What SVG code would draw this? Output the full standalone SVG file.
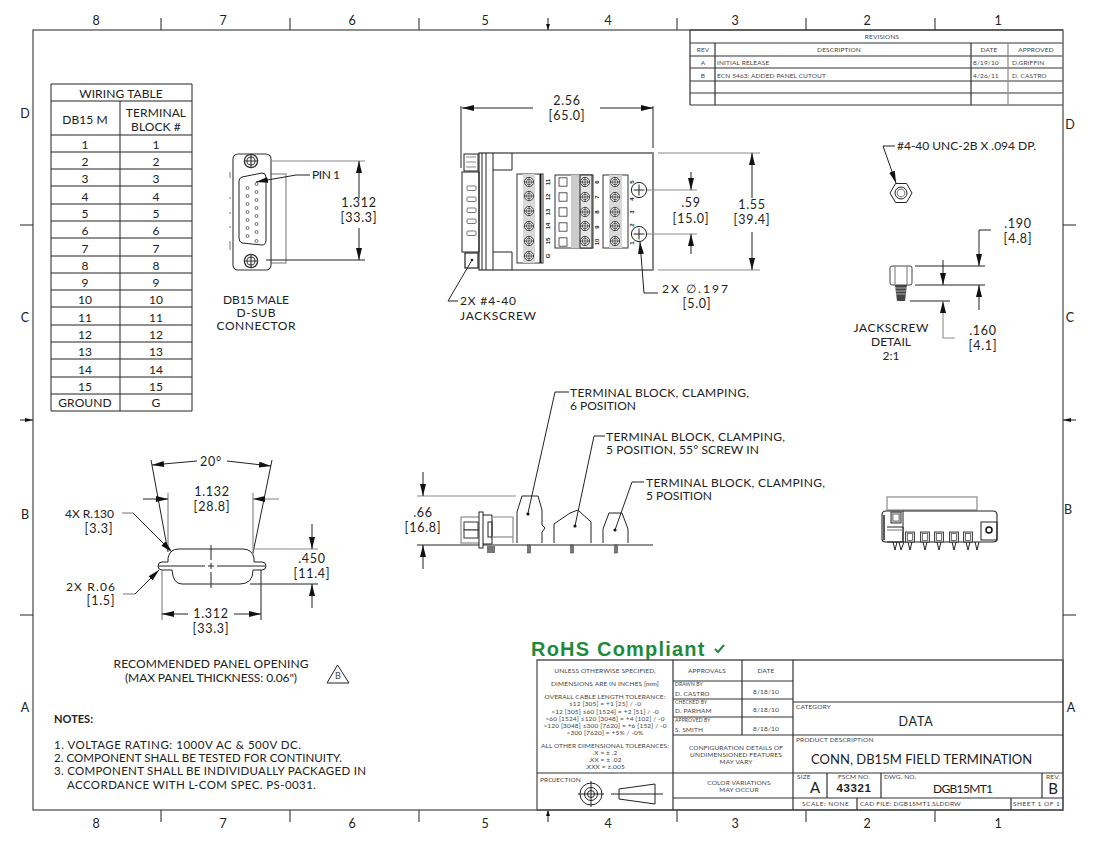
<svg xmlns="http://www.w3.org/2000/svg" width="1099" height="849" viewBox="0 0 1099 849">
<style>
text{font-family:"Lato","Liberation Sans",sans-serif;fill:#222;letter-spacing:.75px}
.z{font-size:12.5px;text-anchor:middle;letter-spacing:0}
.d{font-size:12.5px;text-anchor:middle}
.d2{font-size:12px;text-anchor:middle;letter-spacing:0}
.l{font-size:12px;letter-spacing:0}
.w{font-size:12px;text-anchor:middle;letter-spacing:.1px}
.s{font-size:6.5px;fill:#444;letter-spacing:.15px}
.sm{font-size:6.5px;fill:#444;text-anchor:middle;letter-spacing:.15px}
.n{font-size:11.5px;letter-spacing:0}
.pn{font-size:6px;font-weight:bold;text-anchor:middle;letter-spacing:0;font-family:"Liberation Sans",sans-serif}
.k{fill:none;stroke:#222;stroke-width:1}
.g{fill:none;stroke:#8a8a8a;stroke-width:1.2}
.b{fill:none;stroke:#333;stroke-width:1.2}
.h{fill:none;stroke:#555;stroke-width:1.3}
.ar{fill:none;stroke:#222;stroke-width:1;marker-end:url(#a)}
.ga{fill:none;stroke:#8a8a8a;stroke-width:1.1;marker-end:url(#a)}
</style>
<defs>
<marker id="a" markerUnits="userSpaceOnUse" markerWidth="13" markerHeight="7" refX="12" refY="3" orient="auto"><path d="M0,0L12,3L0,6Z" fill="#111"/></marker>
<g id="sc"><circle r="4.6" fill="#fff" stroke="#333" stroke-width=".9"/><circle r="2.8" fill="none" stroke="#333" stroke-width=".7"/><path d="M-4.6,0H4.6M0,-4.6V4.6" stroke="#333" stroke-width=".8"/></g>
<g id="sq"><rect x="-4" y="-4.2" width="8" height="8.4" fill="#fff" stroke="#333" stroke-width=".8"/></g>
<g id="hl"><circle r="7.6" fill="#fff" stroke="#222" stroke-width="1"/><path d="M-5.5,0H5.5M0,-5.5V5.5" stroke="#222" stroke-width="1"/></g>
<g id="ps"><rect x="-1.5" y="-2" width="3" height="8" fill="#777" stroke="#333" stroke-width=".5"/></g>
<g id="lw"><rect x="-4.5" y="-5" width="9" height="10" fill="#ddd" stroke="#333" stroke-width=".9"/><rect x="-2.5" y="-3.5" width="5" height="7" fill="#fff" stroke="#444" stroke-width=".7"/></g>
</defs>
<rect width="1099" height="849" fill="#fff"/>

<g id="frame">
<rect class="h" x="33" y="30" width="1030" height="780"/>
<path class="k" d="M161,18V30M290,18V30M419,18V30M677,18V30M806,18V30M935,18V30M161,810V822M290,810V822M419,810V822M677,810V822M806,810V822M935,810V822M20,225H33M20,615H33M1063,225H1076M1063,615H1076M548,18V30M548,810V822M20,420H33M1063,420H1076"/>
<path d="M548,30l-2,-6h4ZM548,810l-2,6h4ZM33,420l-8,-2v4ZM1063,420l8,-2v4Z" fill="#111"/>
<text class="z" x="96" y="25">8</text><text class="z" x="223" y="25">7</text><text class="z" x="352" y="25">6</text><text class="z" x="485" y="25">5</text><text class="z" x="608" y="25">4</text><text class="z" x="735" y="25">3</text><text class="z" x="867" y="25">2</text><text class="z" x="998" y="25">1</text>
<text class="z" x="96" y="828">8</text><text class="z" x="223" y="828">7</text><text class="z" x="352" y="828">6</text><text class="z" x="485" y="828">5</text><text class="z" x="608" y="828">4</text><text class="z" x="735" y="828">3</text><text class="z" x="867" y="828">2</text><text class="z" x="998" y="828">1</text>
<text class="z" x="25" y="118">D</text><text class="z" x="25" y="322">C</text><text class="z" x="25" y="519">B</text><text class="z" x="25" y="712">A</text>
<text class="z" x="1070" y="129">D</text><text class="z" x="1070" y="322">C</text><text class="z" x="1068" y="514">B</text><text class="z" x="1071" y="712">A</text>
</g>

<g id="revisions">
<path class="b" d="M690,30H1063M690,43H1063M690,56H1063M690,68H1063M690,81H1063M690,93H1063M690,105H1063M690,30V105M715,43V105M971,43V105"/>
<path class="g" d="M1008,43V105M1063,30V105" stroke-width="1.5"/>
<text class="sm" x="882" y="39">REVISIONS</text><text class="sm" x="703" y="52">REV</text><text class="sm" x="839" y="52">DESCRIPTION</text><text class="sm" x="989" y="52">DATE</text><text class="sm" x="1036" y="52">APPROVED</text>
<text class="sm" x="703" y="65">A</text><text class="s" x="717" y="65">INITIAL RELEASE</text><text class="s" x="973" y="65">8/19/10</text><text class="s" x="1012" y="65">D.GRIFFIN</text>
<text class="sm" x="703" y="78">B</text><text class="s" x="717" y="78" textLength="109">ECN 5463: ADDED PANEL CUTOUT</text><text class="s" x="973" y="78">4/26/11</text><text class="s" x="1012" y="78">D. CASTRO</text>
</g>

<g id="wiring-table">
<path class="k" d="M51,84H192V411H51ZM51,101H192M51,135H192M51,152H192M51,169H192M51,186H192M51,204H192M51,221H192M51,238H192M51,256H192M51,273H192M51,290H192M51,307H192M51,325H192M51,342H192M51,359H192M51,377H192M51,394H192M120,101V411"/>
<g transform="translate(0,1)">
<text class="w" x="121" y="97">WIRING TABLE</text><text class="w" x="85" y="123">DB15 M</text><text class="w" x="156" y="116">TERMINAL</text><text class="w" x="156" y="130">BLOCK #</text>
<text class="w" x="85" y="148">1</text><text class="w" x="156" y="148">1</text><text class="w" x="85" y="165">2</text><text class="w" x="156" y="165">2</text><text class="w" x="85" y="182">3</text><text class="w" x="156" y="182">3</text><text class="w" x="85" y="200">4</text><text class="w" x="156" y="200">4</text><text class="w" x="85" y="217">5</text><text class="w" x="156" y="217">5</text><text class="w" x="85" y="234">6</text><text class="w" x="156" y="234">6</text><text class="w" x="85" y="252">7</text><text class="w" x="156" y="252">7</text><text class="w" x="85" y="269">8</text><text class="w" x="156" y="269">8</text><text class="w" x="85" y="286">9</text><text class="w" x="156" y="286">9</text><text class="w" x="85" y="303">10</text><text class="w" x="156" y="303">10</text><text class="w" x="85" y="321">11</text><text class="w" x="156" y="321">11</text><text class="w" x="85" y="338">12</text><text class="w" x="156" y="338">12</text><text class="w" x="85" y="355">13</text><text class="w" x="156" y="355">13</text><text class="w" x="85" y="373">14</text><text class="w" x="156" y="373">14</text><text class="w" x="85" y="390">15</text><text class="w" x="156" y="390">15</text><text class="w" x="85" y="406">GROUND</text><text class="w" x="156" y="406">G</text>
</g>
</g>

<g id="db15-connector">
<rect class="g" x="266" y="174" width="20" height="89"/>
<rect x="233" y="154" width="38" height="116" rx="5" fill="#fff" stroke="#333" stroke-width="1.1"/>
<path class="k" d="M242,177L262,173Q266,173 266,177L266,240Q266,245 262,245L242,243Q239,242 239,238V181Q239,178 242,177Z"/>
<path class="g" d="M230,172V178M230,197V199M230,212V214M230,226V228M230,241V250" stroke-width="2"/>
<g transform="translate(251,161) scale(1.45)"><use href="#sc"/></g>
<g transform="translate(251,261) scale(1.45)"><use href="#sc"/></g>
<g fill="#fff" stroke="#333" stroke-width=".7">
<circle cx="256.500" cy="184" r="1.500"/><circle cx="256.500" cy="192" r="1.500"/><circle cx="256.500" cy="200" r="1.500"/><circle cx="256.500" cy="208" r="1.500"/><circle cx="256.500" cy="216" r="1.500"/><circle cx="256.500" cy="224" r="1.500"/><circle cx="256.500" cy="232" r="1.500"/><circle cx="256.500" cy="241" r="1.500"/>
<circle cx="247.500" cy="188" r="1.500"/><circle cx="247.500" cy="196" r="1.500"/><circle cx="247.500" cy="204" r="1.500"/><circle cx="247.500" cy="212" r="1.500"/><circle cx="247.500" cy="220" r="1.500"/><circle cx="247.500" cy="228" r="1.500"/><circle cx="247.500" cy="236" r="1.500"/>
</g>
<path class="ar" d="M310,175H296L256,182"/>
<path class="g" d="M271,161H365"/><path class="k" d="M266,260H365"/>
<path class="ar" d="M359,198V161"/><path class="ar" d="M359,228V260"/>
<text class="l" x="312" y="179" textLength="28">PIN 1</text><text class="d" x="359" y="207">1.312</text><text class="d" x="359" y="222">[33.3]</text>
<text class="d2" x="256" y="304" textLength="66">DB15 MALE</text><text class="d2" x="256" y="317" textLength="39">D-SUB</text><text class="d2" x="256" y="330" textLength="79">CONNECTOR</text>
</g>

<g id="terminal-top-view">
<rect class="b" x="479" y="153" width="174" height="117" stroke="#888"/>
<path class="g" d="M512,153H653V270H512"/>
<rect class="k" x="462" y="172" width="17" height="80" stroke="#777"/>
<rect class="k" x="464" y="154" width="14" height="17" stroke="#666"/>
<path class="g" d="M466,157H476M466,162H476M466,167H476"/>
<rect x="465" y="253" width="13" height="15" fill="#fff" stroke="#222" stroke-width="1.2"/>
<circle cx="472" cy="260" r="1.3" fill="#222"/>
<path class="k" d="M482,153V270M486,153V270M493,153V270M493,170H512V153M493,252H512V270"/>
<g fill="#fff" stroke="#555" stroke-width=".8"><rect x="467" y="186" width="9" height="4.500" rx="1"/><rect x="467" y="197" width="9" height="4.500" rx="1"/><rect x="467" y="208" width="9" height="4.500" rx="1"/><rect x="467" y="219" width="9" height="4.500" rx="1"/><rect x="467" y="231" width="9" height="4.500" rx="1"/></g>
<rect x="517" y="174" width="26" height="89" fill="#fff" stroke="#333" stroke-width="1"/>
<rect x="523" y="174" width="12" height="89" fill="#d8d8d8" stroke="none"/>
<path d="M540.500,174V263" stroke="#111" stroke-width="2"/>
<rect x="555" y="175" width="38" height="73" fill="#fff" stroke="#333" stroke-width="1"/>
<rect x="571" y="175" width="9" height="73" fill="#ccc"/>
<rect x="580" y="175" width="12" height="73" fill="#e4e4e4" stroke="#222"/>
<rect x="603" y="175" width="25" height="73" fill="#fff" stroke="#333" stroke-width="1"/>
<rect x="609" y="175" width="13" height="73" fill="#d8d8d8"/>
<use href="#sc" x="529" y="182"/><use href="#sc" x="529" y="196"/><use href="#sc" x="529" y="211"/><use href="#sc" x="529" y="226"/><use href="#sc" x="529" y="241"/><use href="#sc" x="529" y="256"/>
<use href="#sq" x="563" y="182"/><use href="#sq" x="563" y="197"/><use href="#sq" x="563" y="212"/><use href="#sq" x="563" y="227"/><use href="#sq" x="563" y="242"/>
<use href="#sc" x="585" y="182"/><use href="#sc" x="585" y="197"/><use href="#sc" x="585" y="212"/><use href="#sc" x="585" y="226"/><use href="#sc" x="585" y="241"/>
<use href="#sc" x="615" y="182"/><use href="#sc" x="615" y="197"/><use href="#sc" x="615" y="212"/><use href="#sc" x="615" y="226"/><use href="#sc" x="615" y="241"/>
<text class="pn" transform="translate(550,182) rotate(-90)">11</text><text class="pn" transform="translate(550,197) rotate(-90)">12</text><text class="pn" transform="translate(550,212) rotate(-90)">13</text><text class="pn" transform="translate(550,226) rotate(-90)">14</text><text class="pn" transform="translate(550,241) rotate(-90)">15</text><text class="pn" transform="translate(550,256) rotate(-90)">G</text>
<text class="pn" transform="translate(599,182) rotate(-90)">6</text><text class="pn" transform="translate(599,197) rotate(-90)">7</text><text class="pn" transform="translate(599,212) rotate(-90)">8</text><text class="pn" transform="translate(599,227) rotate(-90)">9</text><text class="pn" transform="translate(599,242) rotate(-90)">10</text>
<text class="pn" transform="translate(634,182) rotate(-90)">5</text><text class="pn" transform="translate(634,199) rotate(-90)">4</text><text class="pn" transform="translate(634,212) rotate(-90)">3</text><text class="pn" transform="translate(634,225) rotate(-90)">2</text><text class="pn" transform="translate(634,243) rotate(-90)">1</text>
<use href="#hl" x="639" y="190"/><use href="#hl" x="639" y="234"/>
<path class="k" d="M461,106V168M653,106V148"/>
<path class="ar" d="M533,108H462"/><path class="ar" d="M600,108H653"/>
<text class="d" x="567" y="105">2.56</text><text class="d" x="567" y="120">[65.0]</text>
<path class="g" d="M658,153H760M658,270H760"/>
<path class="ar" d="M752,198V153"/><path class="ar" d="M752,232V270"/>
<text class="d" x="752" y="209">1.55</text><text class="d" x="752" y="224">[39.4]</text>
<path class="g" d="M647,190H697M647,234H697"/>
<path class="ar" d="M691,172V190"/><path class="ar" d="M691,254V234"/>
<text class="d" x="691" y="207">.59</text><text class="d" x="691" y="223">[15.0]</text>
<path class="ar" d="M658,293H644L640,242"/>
<text class="l" x="662" y="293" textLength="66">2X ∅.197</text><text class="d" x="697" y="308">[5.0]</text>
<path class="k" d="M458,301H448L472,260"/>
<text class="l" x="460" y="305" textLength="56">2X #4-40</text><text class="l" x="460" y="320" textLength="76">JACKSCREW</text>
</g>

<g id="jackscrew-detail">
<path class="ar" d="M895,146H883L896,183"/>
<text class="l" x="897" y="150" textLength="139">#4-40 UNC-2B X .094 DP.</text>
<path class="k" d="M890,193L895.500,183.500H906.500L912,193L906.500,202.500H895.500Z"/><circle class="k" cx="901" cy="193" r="6"/><circle class="g" cx="901" cy="193" r="3.800"/>
<rect x="890" y="266" width="22" height="19" rx="2" fill="#fff" stroke="#444"/><path class="g" d="M895,266V285M907,266V285"/>
<path d="M895,285H907L905,301H897Z" fill="#444"/><path d="M895,288H907M895,291H907M895,294H907" stroke="#ddd" stroke-width=".7"/>
<path class="k" d="M915,266H985M915,285H985M910,301H950"/>
<path class="ar" d="M991,230H979V266"/><path class="ar" d="M979,310V285"/>
<path class="ar" d="M943,260V285"/><path class="ga" d="M955,338H943V301"/>
<text class="d" x="1018" y="228">.190</text><text class="d" x="1018" y="243">[4.8]</text><text class="d" x="983" y="335">.160</text><text class="d" x="983" y="350">[4.1]</text>
<text class="d2" x="891" y="332" textLength="75">JACKSCREW</text><text class="d2" x="891" y="346" textLength="40">DETAIL</text><text class="d2" x="891" y="360">2:1</text>
</g>

<g id="panel-opening">
<path class="k" d="M178,549H243Q252,549 254,558V562H262A4,4 0 0 1 262,570H253Q253,584 240,584H182Q173,584 172,570H162A4,4 0 0 1 162,562H168V558Q170,549 178,549Z"/>
<path class="k" d="M158,566H205M217,566H265M211,545V560M211,572V588M208,566H214M211,563V569"/>
<path class="k" d="M151,460L168,552M272,460L253,553"/>
<path class="ar" d="M197,461L152,465"/><path class="ar" d="M227,461L271,466"/>
<text class="d" x="211" y="466">20°</text>
<path class="g" d="M168,493V552M253,493V555"/>
<path class="ar" d="M143,499H168"/><path class="ga" d="M279,499H253"/>
<text class="d" x="212" y="496">1.132</text><text class="d" x="212" y="511">[28.8]</text>
<path class="g" d="M122,513H133"/><path class="ar" d="M133,513L172,552"/>
<text class="l" x="65" y="518" textLength="49">4X R.130</text><text class="d" x="99" y="533">[3.3]</text>
<path class="g" d="M123,594H135"/><path class="ar" d="M135,594L159,570"/>
<text class="l" x="66" y="591" textLength="49">2X R.06</text><text class="d" x="101" y="605">[1.5]</text>
<path class="g" d="M254,549H318"/><path class="k" d="M250,584H318"/>
<path class="ar" d="M312,524V549"/><path class="ar" d="M312,608V584"/>
<text class="d" x="312" y="563">.450</text><text class="d" x="312" y="578">[11.4]</text>
<path class="g" d="M162,570V620"/><path class="k" d="M261,570V620"/>
<path class="ar" d="M188,614H162"/><path class="ar" d="M234,614H261"/>
<text class="d" x="211" y="618">1.312</text><text class="d" x="211" y="633">[33.3]</text>
<text class="d2" x="211" y="668" textLength="195">RECOMMENDED PANEL OPENING</text><text class="d2" x="211" y="682" textLength="172">(MAX PANEL THICKNESS: 0.06")</text>
<path class="k" d="M327,683L337.500,665L349,683Z"/><text class="sm" x="338" y="679" style="font-size:9px">B</text>
</g>

<g id="terminal-side-view">
<path class="g" d="M417,496H516"/><path class="k" d="M417,545H653" stroke-width="1.2"/>
<path class="ar" d="M423,472V496"/><path class="ar" d="M423,569V545"/>
<text class="d" x="423" y="517">.66</text><text class="d" x="423" y="532">[16.8]</text>
<rect class="g" x="461" y="517" width="19" height="26"/>
<rect x="464" y="522" width="14" height="8" fill="#fff" stroke="#333"/><rect x="464" y="530" width="14" height="8" fill="#fff" stroke="#333"/>
<rect x="479" y="512" width="4" height="36" fill="#fff" stroke="#222"/>
<path class="k" d="M483,515H492V544H483"/><rect class="k" x="488" y="522" width="4" height="15"/>
<path class="g" d="M492,517H513V543"/><path class="g" d="M492,537H513"/>
<path d="M487,546H495V553H487Z" fill="#777"/>
<path class="k" d="M517,543V512L522,496H538L542,510V525L545,528L542,532V543" stroke-width="1.1"/>
<path class="k" d="M554,543V524L570,513L578,510L591,522V543" stroke-width="1.1"/>
<path class="k" d="M603,543V529L609,513L622,513L628,529V543" stroke-width="1.1"/>
<use href="#ps" x="529" y="547"/><use href="#ps" x="572" y="547"/><use href="#ps" x="616" y="547"/>
<path class="k" d="M569,392H555L528,513"/><circle cx="528" cy="514" r="1.600" fill="#111"/>
<path class="k" d="M605,436H594L575,526"/><circle cx="575" cy="526" r="1.600" fill="#111"/>
<path class="k" d="M644,482H632L615,530"/><circle cx="615" cy="530" r="1.600" fill="#111"/>
<text class="l" x="570" y="397" textLength="179">TERMINAL BLOCK, CLAMPING,</text><text class="l" x="570" y="410" textLength="66">6 POSITION</text>
<text class="l" x="606" y="441" textLength="179">TERMINAL BLOCK, CLAMPING,</text><text class="l" x="606" y="454" textLength="153">5 POSITION, 55° SCREW IN</text>
<text class="l" x="646" y="487" textLength="179">TERMINAL BLOCK, CLAMPING,</text><text class="l" x="646" y="500" textLength="66">5 POSITION</text>
</g>

<g id="terminal-end-view">
<rect class="g" x="887" y="497" width="90" height="13"/>
<path d="M886,511H993Q997,511 997,515V539Q997,542 993,542H886Q882,542 882,539V515Q882,511 886,511Z" fill="#fff" stroke="#222" stroke-width="1.1"/>
<path d="M884,515V540" stroke="#222" stroke-width="1.5"/>
<path class="k" d="M887,527H903V542H887M903,511V542"/><path class="g" d="M887,530H903"/>
<rect x="891" y="512" width="10" height="11" fill="#ccc" stroke="#333"/><rect x="893" y="514" width="6" height="7" fill="#fff" stroke="#444" stroke-width=".7"/>
<rect class="k" x="981" y="522" width="16" height="18"/><circle cx="989" cy="530" r="3" fill="#fff" stroke="#111" stroke-width="1.500"/>
<use href="#lw" x="910" y="537"/><use href="#lw" x="925" y="537"/><use href="#lw" x="939" y="537"/><use href="#lw" x="954" y="537"/><use href="#lw" x="968" y="537"/>
<path class="k" d="M893,542L895,550L897,542M899,542L901,550L904,542M908,542L910,550L912,542M923,542L925,550L927,542M937,542L939,550L941,542M952,542L954,550L956,542M966,542L968,550L970,542M975,542L977,550L979,542"/>
</g>

<g id="rohs">
<text x="531" y="656" style="font-family:'Liberation Sans',sans-serif;font-size:20px;font-weight:bold;fill:#1f8a3c;letter-spacing:1.2px">RoHS Compliant</text>
<path d="M715,649L718,652L724,645" fill="none" stroke="#1f8a3c" stroke-width="2"/>
</g>

<g id="notes">
<text x="54" y="723" textLength="39" style="font-size:11px;font-weight:bold;letter-spacing:0">NOTES:</text>
<text class="n" x="54" y="749" textLength="247">1. VOLTAGE RATING: 1000V AC &amp; 500V DC.</text>
<text class="n" x="54" y="762" textLength="288">2. COMPONENT SHALL BE TESTED FOR CONTINUITY.</text>
<text class="n" x="54" y="775" textLength="312">3. COMPONENT SHALL BE INDIVIDUALLY PACKAGED IN</text>
<text class="n" x="67" y="789" textLength="249">ACCORDANCE WITH L-COM SPEC. PS-0031.</text>
</g>

<g id="title-block">
<path class="h" d="M537,660H1063V810H537Z"/>
<path class="b" d="M673,660V810M742,660V735M793,660V810M673,681H793M673,699H793M673,717H793M673,735H793M537,773H1063M673,798H793M793,702H1063M793,735H1063M793,798H1063M827,773V798M881,773V798M1042,773V798M857,798V810M1011,798V810"/>
<text class="sm" x="605" y="673">UNLESS OTHERWISE SPECIFIED,</text><text class="sm" x="605" y="686">DIMENSIONS ARE IN INCHES [mm]</text><text class="sm" x="605" y="699" textLength="121">OVERALL CABLE LENGTH TOLERANCE:</text>
<text class="sm" x="605" y="706">≤12 [305] = +1 [25] / -0</text><text class="sm" x="605" y="714">&gt;12 [305] ≤60 [1524] = +2 [51] / -0</text><text class="sm" x="605" y="721">&gt;60 [1524] ≤120 [3048] = +4 [102] / -0</text><text class="sm" x="605" y="728">&gt;120 [3048] ≤300 [7620] = +6 [152] / -0</text><text class="sm" x="605" y="735">&gt;300 [7620] = +5% / -0%</text>
<text class="sm" x="605" y="748" textLength="128">ALL OTHER DIMENSIONAL TOLERANCES:</text><text class="sm" x="605" y="755">.X = ± .2</text><text class="sm" x="605" y="762">.XX = ± .02</text><text class="sm" x="605" y="769">.XXX = ±.005</text>
<text class="s" x="540" y="782">PROJECTION</text>
<text class="sm" x="707" y="673">APPROVALS</text><text class="sm" x="766" y="673">DATE</text>
<text class="s" x="675" y="686" style="font-size:5px">DRAWN BY</text><text class="s" x="675" y="696">D. CASTRO</text><text class="sm" x="766" y="694">8/18/10</text>
<text class="s" x="675" y="704" style="font-size:5px">CHECKED BY</text><text class="s" x="675" y="713">D. PARHAM</text><text class="sm" x="766" y="712">8/18/10</text>
<text class="s" x="675" y="722" style="font-size:5px">APPROVED BY</text><text class="s" x="675" y="732">S. SMITH</text><text class="sm" x="766" y="731">8/18/10</text>
<text class="sm" x="736" y="750">CONFIGURATION DETAILS OF</text><text class="sm" x="736" y="757">UNDIMENSIONED FEATURES</text><text class="sm" x="736" y="764">MAY VARY</text>
<text class="sm" x="739" y="785">COLOR VARIATIONS</text><text class="sm" x="739" y="792">MAY OCCUR</text>
<text class="s" x="796" y="709">CATEGORY</text><text class="d" x="916" y="726">DATA</text>
<text class="s" x="796" y="742">PRODUCT DESCRIPTION</text><text class="d" x="922" y="764" textLength="222" style="font-size:13px">CONN, DB15M FIELD TERMINATION</text>
<text class="s" x="797" y="779">SIZE</text><text x="815" y="793" style="font-size:15px;text-anchor:middle;letter-spacing:0">A</text>
<text class="sm" x="854" y="779">FSCM NO.</text><text x="854" y="792" style="font-family:'Liberation Sans',sans-serif;font-size:11.500px;font-weight:bold;text-anchor:middle;letter-spacing:.6px">43321</text>
<text class="s" x="884" y="779">DWG. NO.</text><text class="d2" x="963" y="793" textLength="60">DGB15MT1</text>
<text class="sm" x="1053" y="779">REV.</text><text x="1053" y="794" style="font-size:15px;text-anchor:middle;letter-spacing:0">B</text>
<text class="s" x="802" y="806" textLength="47">SCALE: NONE</text><text class="s" x="860" y="806" textLength="101">CAD FILE: DGB15MT1.SLDDRW</text><text class="s" x="1013" y="806" textLength="47">SHEET 1 OF 1</text>
<g id="projection-symbol">
<circle class="k" cx="591" cy="794" r="11"/><circle class="k" cx="591" cy="794" r="6.500"/><circle class="k" cx="591" cy="794" r="3.500"/>
<path class="k" d="M578,794H604M591,781V807"/>
<path class="k" d="M619,789L655,784V804L619,799ZM611,794H663"/>
</g>
</g>
</svg>
